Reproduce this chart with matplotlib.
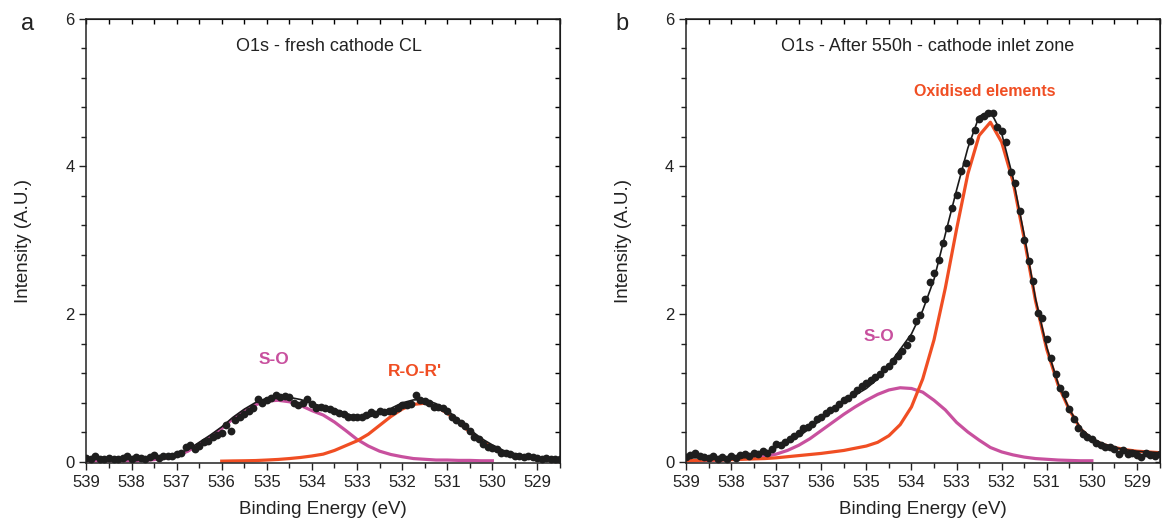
import matplotlib.pyplot as plt
import numpy as np
from matplotlib.ticker import MultipleLocator

# Fuente tipo Arial
plt.rcParams['font.family'] = ['Liberation Sans', 'DejaVu Sans']

# Ejes de energia (eV): puntos medidos cada 0.1 eV, curvas de ajuste cada 0.25 eV
energia_puntos = np.round(np.arange(539.0, 528.45, -0.1), 2)
energia_ajuste = np.round(np.arange(539.0, 528.45, -0.25), 2)

# ---- Panel a: O1s - fresh cathode CL ----
puntos_a = [
    0.05, 0.04, 0.07, 0.04, 0.03, 0.05, 0.03, 0.04, 0.05, 0.08,
    0.04, 0.06, 0.05, 0.04, 0.06, 0.09, 0.05, 0.07, 0.08, 0.08,
    0.10, 0.12, 0.20, 0.23, 0.17, 0.21, 0.26, 0.28, 0.33, 0.36,
    0.38, 0.49, 0.42, 0.56, 0.60, 0.64, 0.68, 0.72, 0.85, 0.80,
    0.83, 0.86, 0.90, 0.88, 0.89, 0.87, 0.79, 0.76, 0.80, 0.85,
    0.78, 0.73, 0.74, 0.72, 0.71, 0.68, 0.66, 0.645, 0.61, 0.60,
    0.61, 0.60, 0.63, 0.667, 0.645, 0.69, 0.67, 0.68, 0.69, 0.72,
    0.77, 0.77, 0.78, 0.905, 0.83, 0.82, 0.79, 0.74, 0.735, 0.72,
    0.69, 0.60, 0.56, 0.52, 0.485, 0.42, 0.33, 0.31, 0.24, 0.19,
    0.18, 0.17, 0.12, 0.11, 0.10, 0.08, 0.07, 0.06, 0.07, 0.055,
    0.05, 0.04, 0.05, 0.04, 0.03, 0.03,
]
envolvente_a = [
    0.035, 0.035, 0.035, 0.035, 0.035, 0.04, 0.05, 0.07, 0.10, 0.16,
    0.26, 0.36, 0.47, 0.60, 0.71, 0.80, 0.86, 0.88, 0.87, 0.84,
    0.785, 0.75, 0.71, 0.655, 0.60, 0.60, 0.65, 0.72, 0.795, 0.835,
    0.84, 0.785, 0.695, 0.565, 0.435, 0.315, 0.225, 0.15, 0.105, 0.07,
    0.05, 0.04, 0.03,
]
# S-O (539 -> 530 eV)
so_a = [
    0.01, 0.01, 0.01, 0.01, 0.01, 0.015, 0.025, 0.045, 0.08, 0.14,
    0.24, 0.34, 0.45, 0.58, 0.69, 0.77, 0.82, 0.83, 0.81, 0.76,
    0.69, 0.63, 0.535, 0.42, 0.30, 0.21, 0.14, 0.095, 0.065, 0.04,
    0.03, 0.02, 0.02, 0.015, 0.015, 0.01, 0.01,
]
# R-O-R' (536 -> 528.5 eV)
ror_a = [
    0.005, 0.008, 0.01, 0.013, 0.02, 0.028, 0.04, 0.055, 0.075, 0.10,
    0.15, 0.215, 0.28, 0.37, 0.49, 0.61, 0.71, 0.775, 0.79, 0.745,
    0.655, 0.53, 0.40, 0.285, 0.195, 0.13, 0.085, 0.05, 0.03, 0.02,
    0.01,
]

# ---- Panel b: O1s - After 550h - cathode inlet zone ----
puntos_b = [
    0.06, 0.09, 0.11, 0.07, 0.06, 0.05, 0.07, 0.03, 0.06, 0.04,
    0.08, 0.05, 0.09, 0.10, 0.07, 0.12, 0.10, 0.14, 0.12, 0.17,
    0.24, 0.22, 0.27, 0.31, 0.34, 0.38, 0.45, 0.47, 0.51, 0.57,
    0.60, 0.66, 0.70, 0.73, 0.78, 0.84, 0.86, 0.92, 0.97, 1.02,
    1.06, 1.10, 1.14, 1.18, 1.25, 1.30, 1.36, 1.43, 1.50, 1.58,
    1.68, 1.90, 1.98, 2.20, 2.43, 2.55, 2.73, 2.96, 3.17, 3.44,
    3.62, 3.94, 4.05, 4.35, 4.50, 4.64, 4.69, 4.72, 4.73, 4.53,
    4.48, 4.33, 3.92, 3.78, 3.40, 3.01, 2.72, 2.45, 2.02, 1.95,
    1.66, 1.40, 1.19, 1.00, 0.91, 0.71, 0.57, 0.45, 0.37, 0.33,
    0.30, 0.25, 0.23, 0.19, 0.20, 0.17, 0.10, 0.15, 0.10, 0.12,
    0.09, 0.06, 0.12, 0.09, 0.08, 0.10,
]
envolvente_b = [
    0.05, 0.05, 0.05, 0.045, 0.045, 0.05, 0.07, 0.12, 0.19, 0.25,
    0.34, 0.45, 0.57, 0.68, 0.80, 0.90, 0.99, 1.12, 1.31, 1.52,
    1.73, 2.05, 2.47, 3.08, 3.68, 4.25, 4.68, 4.75, 4.45, 3.85,
    3.07, 2.21, 1.55, 1.06, 0.71, 0.45, 0.31, 0.24, 0.19, 0.16,
    0.14, 0.13, 0.12,
]
# S-O (539 -> 530 eV)
so_b = [
    0.01, 0.01, 0.015, 0.02, 0.03, 0.04, 0.05, 0.07, 0.10, 0.15,
    0.22, 0.31, 0.42, 0.53, 0.64, 0.74, 0.83, 0.91, 0.97, 1.00,
    0.99, 0.94, 0.83, 0.70, 0.53, 0.40, 0.29, 0.19, 0.13, 0.09,
    0.06, 0.04, 0.03, 0.02, 0.015, 0.01, 0.01,
]
# Oxidised elements (539 -> 528.5 eV)
oxid_b = [
    0.01, 0.015, 0.02, 0.02, 0.025, 0.03, 0.035, 0.04, 0.05, 0.065,
    0.08, 0.095, 0.11, 0.13, 0.15, 0.18, 0.21, 0.26, 0.35, 0.50,
    0.74, 1.12, 1.65, 2.35, 3.15, 3.90, 4.42, 4.60, 4.33, 3.80,
    3.02, 2.18, 1.52, 1.04, 0.70, 0.44, 0.30, 0.23, 0.19, 0.16,
    0.14, 0.13, 0.12,
]

COLOR_SO = '#C8509E'
COLOR_OX = '#F04E23'


def preparar_ejes(ax, titulo, x_titulo):
    ax.set_xlim(539.0, 528.5)
    ax.set_ylim(-0.02, 6)
    ax.xaxis.set_major_locator(MultipleLocator(1))
    ax.xaxis.set_minor_locator(MultipleLocator(0.5))
    ax.yaxis.set_major_locator(MultipleLocator(2))
    ax.yaxis.set_minor_locator(MultipleLocator(0.4))
    ax.tick_params(which='both', direction='out', width=1.0, labelsize=12,
                   top=False, right=False, colors='#222222')
    ax.tick_params(which='major', length=5)
    ax.tick_params(which='minor', length=3.5)
    for s in ax.spines.values():
        s.set_linewidth(1.1)
        s.set_color('#222222')

    # Marcas interiores arriba y a la derecha
    arriba = ax.secondary_xaxis('top')
    arriba.xaxis.set_major_locator(MultipleLocator(1))
    arriba.xaxis.set_minor_locator(MultipleLocator(0.5))
    arriba.tick_params(which='both', direction='in', length=3.5, width=1.0,
                       labeltop=False)
    derecha = ax.secondary_yaxis('right')
    derecha.yaxis.set_major_locator(MultipleLocator(2))
    derecha.yaxis.set_minor_locator(MultipleLocator(0.4))
    derecha.tick_params(which='both', direction='in', length=3.5, width=1.0,
                        labelright=False)

    ax.set_xlabel('Binding Energy (eV)', fontsize=13.5, color='#222222')
    ax.set_ylabel('Intensity (A.U.)', fontsize=13.5, color='#222222')
    ax.xaxis.set_label_coords(0.5, -0.085)
    ax.yaxis.set_label_coords(-0.115, 0.5)
    ax.text(x_titulo, 0.939, titulo, transform=ax.transAxes, fontsize=13,
            ha='left', va='center', color='#222222')


def generar_grafico():
    fig = plt.figure(figsize=(11.73, 5.26), dpi=100)
    ax_a = fig.add_axes([0.0737, 0.1198, 0.4037, 0.8441])
    ax_b = fig.add_axes([0.5848, 0.1198, 0.4037, 0.8441])

    # Panel a
    ax_a.plot(energia_ajuste[:37], so_a, color=COLOR_SO, lw=2.3, zorder=2)
    ax_a.plot(energia_ajuste[12:], ror_a, color=COLOR_OX, lw=2.3, zorder=2)
    ax_a.plot(energia_ajuste, envolvente_a, color='#1a1a1a', lw=1.2, zorder=3)
    ax_a.plot(energia_puntos, puntos_a, 'o', ms=5.6, color='#1e1e1e', mec='none', zorder=4)
    preparar_ejes(ax_a, 'O1s - fresh cathode CL', 0.316)
    ax_a.text(0.396, 0.232, 'S-O', transform=ax_a.transAxes, fontsize=12.5,
              fontweight='bold', color=COLOR_SO, ha='center', va='center')
    ax_a.text(0.694, 0.205, "R-O-R'", transform=ax_a.transAxes, fontsize=12.5,
              fontweight='bold', color=COLOR_OX, ha='center', va='center')

    # Panel b
    ax_b.plot(energia_ajuste[:37], so_b, color=COLOR_SO, lw=2.3, zorder=2)
    ax_b.plot(energia_ajuste, oxid_b, color=COLOR_OX, lw=2.3, zorder=2)
    ax_b.plot(energia_ajuste, envolvente_b, color='#1a1a1a', lw=1.2, zorder=3)
    ax_b.plot(energia_puntos, puntos_b, 'o', ms=5.6, color='#1e1e1e', mec='none', zorder=4)
    preparar_ejes(ax_b, 'O1s - After 550h - cathode inlet zone', 0.2006)
    ax_b.text(0.631, 0.836, 'Oxidised elements', transform=ax_b.transAxes,
              fontsize=11.5, fontweight='bold', color=COLOR_OX, ha='center', va='center')
    ax_b.text(0.408, 0.284, 'S-O', transform=ax_b.transAxes, fontsize=12.5,
              fontweight='bold', color=COLOR_SO, ha='center', va='center')

    # Letras de los paneles
    fig.text(0.0239, 0.954, 'a', fontsize=17, ha='center', va='center', color='#222222')
    fig.text(0.530, 0.954, 'b', fontsize=17, ha='center', va='center', color='#222222')

    fig.savefig('out.png', dpi=100)
    plt.close(fig)


if __name__ == "__main__":
    generar_grafico()
